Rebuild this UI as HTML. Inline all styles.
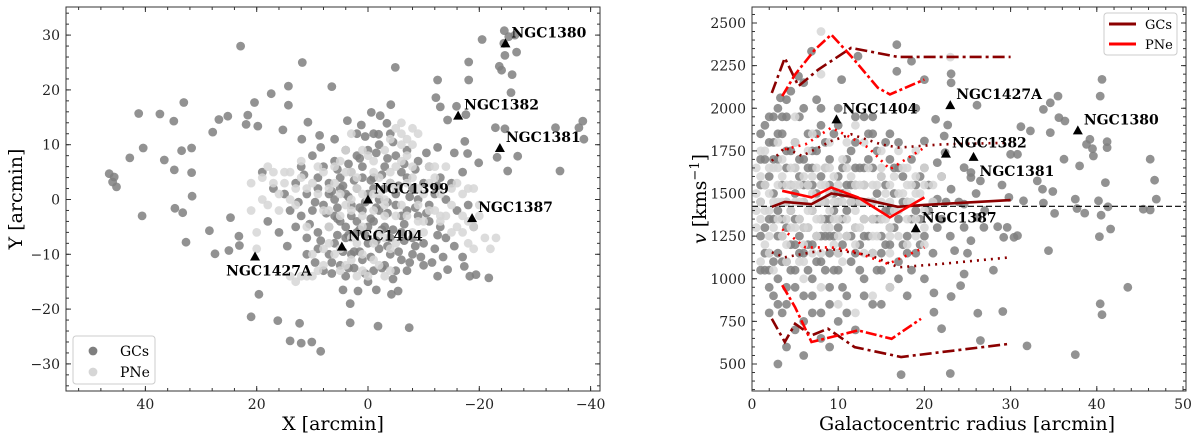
<!DOCTYPE html>
<html><head><meta charset="utf-8"><style>
html,body{margin:0;padding:0;background:#fff;}
svg{display:block;font-family:"DejaVu Serif","Liberation Serif",serif;}
.tick{font-size:14px;fill:#222;}
.lab{font-weight:bold;font-size:14px;fill:#000;}
</style></head><body>
<svg id="fig" width="1200" height="439" viewBox="0 0 1200 439" xmlns="http://www.w3.org/2000/svg">
<g id="left"></g>
<g id="right"></g>
</svg>
<script>
// ---- LEFT PANEL DATA ----
const leftXTicks=[40,20,0,-20,-40];
const leftYTicks=[30,20,10,0,-10,-20,-30];
const leftGCOuter=[[22.9,28],[11.8,25],[6.5,20.6],[17.4,19.3],[14.3,20.7],[20.4,17.7],[14.3,17.2],[41.2,15.7],[37.4,15.6],[34.9,14.3],[33.1,17.7],[26.8,14.6],[25.2,15.2],[21.6,15.4],[21.9,13.7],[19.8,13.4],[27.9,12.3],[40.4,9.4],[42.8,7.6],[36.6,7.2],[33.5,8.9],[31.7,9.4],[34.8,5.4],[31.7,4.9],[46.5,4.7],[45.6,4.1],[45.9,3.2],[45.2,2.3],[31.6,0.6],[34.7,-1.6],[33.3,-2.4],[40.6,-3],[32.7,-7.8],[28.5,-5.7],[27.5,-9.9],[25,-9.3],[24.7,-3.3],[23.2,-6.7],[23.1,-8.4],[21,-21.4],[19.6,-17.3],[16.2,-22.1],[12.3,-22.6],[14,-25.8],[12,-26.2],[10.1,-26],[8.5,-27.7],[3.2,-22.5],[-1.8,-23.1],[-7.4,-23.4],[3.2,-19],[1.8,-16.7],[-4.2,-17.3],[-5.4,-16.7],[-12.5,-14],[-14.3,-12.8],[-18.3,-14],[-19.4,-13.7],[-21.7,-14.3],[-17,-10.5],[-17.3,-12.2],[-20.5,29.2],[-24.5,30.8],[-26.4,30],[-25.3,29.7],[-24.4,28.5],[-26.7,26.9],[-24.6,26.3],[-23.6,24.3],[-24,23.6],[-25.9,22.8],[-18.1,25.1],[-18.1,21.8],[-12.5,21.8],[-12.2,18.6],[-13,16.9],[-15.9,17],[-17.6,15.5],[-14.3,14.5],[-25.7,19.5],[-22.9,13.1],[-24.6,12.9],[-17.4,10.6],[-17.9,8.4],[-23.2,7.7],[-26.9,7.9],[-33.7,13.1],[-37.9,13.1],[-38.6,14.3],[-38.8,11],[-34.5,5.2],[-25.1,5.2],[-19.9,6.7],[-4.9,24.1],[-4.1,17.3],[-0.6,15.9],[-2.2,15.3],[3.7,14.4],[1.2,13.6],[10.8,14.1],[15.3,12.7],[8.7,11.7],[11.9,11],[-1,12],[-1.9,11.9],[-3.4,13.9]];
const leftGCCore=[[-2,10],[0,9],[2,8],[4,9],[-5,8],[-7,9],[6,7],[8,6],[-9,7],[-11,6],[-13,4],[-10,3],[-6,5],[-3,6],[1,6],[3,5],[5,4],[7,3],[9,2],[11,1],[-1,4],[-4,3],[-8,2],[-12,1],[-14,0],[2,2],[4,1],[6,0],[8,-1],[10,-2],[12,-3],[0,1],[-2,0],[-5,-1],[-7,-2],[-9,-3],[-11,-4],[-13,-5],[1,-2],[3,-3],[5,-4],[7,-5],[9,-6],[-1,-4],[-3,-5],[-6,-6],[-8,-7],[-10,-8],[2,-6],[4,-7],[6,-8],[0,-8],[-2,-9],[-4,-10],[-6,-11],[-8,-10],[1,-11],[3,-10],[5,-12],[-1,-13],[-3,-12],[-5,-13],[7,-10],[9,-9],[11,-7],[13,-5],[14,-2],[15,1],[13,3],[12,6],[10,8],[-15,3],[-16,-2],[-12,-9],[-14,-7],[2,12],[-4,12],[4,-14],[-7,-13],[8,-13],[0,-15],[-10,-12],[16,-6],[18,-4],[17,2],[19,5],[-17,5],[-18,-1],[-19,-5],[6,11],[-1,2],[1,4],[3,-1],[-3,2],[-5,1],[5,2],[-7,4],[7,1],[-9,0],[9,4],[-11,-1],[11,-10],[-2,-2],[0,-5],[2,-4],[-4,-7],[4,-5],[-6,-3],[6,-3],
[-1.5,8.5],[1.5,7.5],[3.5,6.5],[-3.5,7.5],[-6.5,6.5],[5.5,5.5],[-8.5,5.5],[-0.5,3.5],[2.5,3.5],[-2.5,4.5],[4.5,2.5],[-5.5,2.5],[6.5,1.5],[-7.5,0.5],[0.5,-0.5],[-1.5,-1.5],[1.5,-1.5],[3.5,0.5],[-3.5,-0.5],[5.5,-1.5],[-6.5,-4.5],[7.5,-2.5],[-8.5,-1.5],[9.5,-0.5],[-10.5,-2.5],[0.5,-6.5],[-1.5,-7.5],[2.5,-9.5],[-3.5,-8.5],[4.5,-9.5],[-5.5,-9.5],[1.5,-9.5],[-0.5,-10.5],[3.5,-12.5],[-2.5,-12.5],[5.5,-6.5],[-4.5,-5.5],[6.5,-11.5],[-6.5,-7.5],[8.5,-7.5],[-8.5,-8.5],[10.5,-4.5],[-12.5,-6.5],[12.5,-0.5],[-12.5,2.5],[11.5,4.5],[-10.5,8.5],[8.5,9.5],[-4.5,10.5],[0.5,11.5],[-7.5,-11.5],[-9.5,-10.5],[-11.5,-11.5],[-13.5,-10.5],[-15.5,-8.5],[2.5,-12.5],[0.5,-13.5],[-4.5,-14.5],[6.5,-13.5],[9.5,-11.5],[14.5,-8.5],[-1.5,-16.5],[4.5,-16.5],[-12.5,9.5],[-15.5,8.5],[-3.5,-2.5],[-0.5,-3.5],[1.5,-5.5],[3.5,-6.5],[-2.5,-5.5],[5.5,-3.5]];
const leftPNe=[[0,0],[-2,1],[2,2],[-4,3],[4,-1],[-6,-1],[6,3],[-1,5],[1,-3],[-3,-3],[3,5],[-5,6],[5,7],[-8,4],[8,-2],[-7,8],[7,-5],[-10,1],[10,3],[-9,-4],[9,6],[0,8],[-2,-6],[2,-8],[-4,-9],[4,9],[-1,-11],[1,-13],[-3,-14],[2,-14],[-6,12],[-8,13],[-7,11],[-5,13],[-9,12],[-12,4],[-14,6],[-16,3],[-18,2],[-20,-1],[-17,-3],[-19,-5],[-21,-7],[-18,-8],[-16,-5],[-15,-1],[13,-1],[15,3],[17,5],[19,4],[16,1],[18,-1],[14,5],[12,7],[11,-14],[13,-15],[10,-14],[14,-14],[8,-9],[6,-10],[-12,-2],[-11,6],[-13,-3],[3,-11],[-10,-6],[11,-5],[5,-13],[-23,-7],[-22,-9],[20,-6],[20,-9],[-3,9],[3,12],
[-1,1],[1,1],[-3,0],[3,0],[-5,2],[5,1],[-7,3],[7,2],[-9,2],[9,1],[-11,3],[11,2],[-2,4],[2,4],[-4,5],[4,5],[-6,7],[6,6],[-8,6],[8,5],[-1,7],[1,9],[-3,-1],[3,-2],[-5,-3],[5,-3],[-7,-3],[7,-2],[-9,-1],[-1,-2],[1,-5],[-3,-7],[3,-7],[-5,-8],[5,-9],[-1,-8],[1,-10],[-2,-12],[0,-14],[-4,-13],[4,-12],[-13,1],[-15,2],[-17,1],[-19,2],[-14,-3],[-18,-4],[-20,-3],[-17,-6],[-19,-9],[-15,-6],[13,2],[15,5],[17,3],[18,6],[12,4],[16,-2],[14,0],[-6,10],[-4,11],[-8,10],[-6,14],[12,-14],[9,-13],[7,-8],[10,-10],[-11,-2],[-13,-4],[19,0],[21,-2],[21,3],[-8,-6],[-10,-4],[-12,6],[8,-12]];
const leftGalNames=["NGC1380","NGC1382","NGC1381","NGC1399","NGC1387","NGC1404","NGC1427A"];
const leftGalX=[-24.7,-16.2,-23.7,0,-18.7,4.7,20.3];
const leftGalY=[28.5,15.3,9.4,0,-3.4,-8.6,-10.4];

// ---- RIGHT PANEL DATA ----
const rightXTicks=[0,10,20,30,40,50];
const rightYTicks=[500,750,1000,1250,1500,1750,2000,2250,2500];
const systemicV=1425;
const rightGCOuter=[[40.6,2169],[40.4,2071],[35.5,2071],[34.6,2032],[33.8,1993],[35.6,1945],[36.3,1925],[34.6,1857],[32.3,1867],[31.2,1892],[38.8,1788],[39.2,1818],[41.2,1804],[41.2,1769],[39.5,1763],[39.6,1720],[36.2,1701],[38,1662],[46.2,1701],[46.7,1578],[41,1564],[33.1,1574],[33.7,1525],[34.9,1512],[33.8,1444],[31.5,1457],[37.5,1467],[37.7,1412],[38.6,1385],[40.2,1457],[41.3,1422],[40.5,1373],[41.6,1292],[40.3,1247],[45.4,1408],[46.2,1403],[46.9,1467],[35.1,1383],[34.4,1165],[43.6,950],[40.4,853],[40.6,789],[37.5,555],[31.9,606],[30.8,1253],[30.4,1243],[29.2,1243],[29.6,1301],[29.8,1477],[30,1730],[29.1,808],[26.5,638],[23,444],[17.3,438],[26.2,798],[23.1,896],[22,707],[21.1,804],[21.1,917],[24.2,960],[24.6,1028],[23.5,1165],[25.4,1223],[24.6,1301],[26.9,1301],[26.2,1360],[28.5,1305],[26.5,1574],[25.4,1594],[23.1,1525],[24.6,1438],[21.5,1467],[22.4,1740],[23.1,2149],[23.1,2202],[20,2168],[16.8,2217],[16.8,2373],[18.5,2276],[12.3,2305],[10.4,2168],[6.9,2334],[5.4,2188],[3.3,2061],[30.8,1730],[26.1,2018],[21.3,1935],[22.7,1902],[20,1808],[24.6,1652],[25.4,1623],[21.5,1681],[22.3,1837]];
const rightGCCore=[[1,1450],[1,1700],[1,1250],[1.5,1900],[1.5,1050],[2,1600],[2,1350],[2,1800],[2,1150],[2.5,1950],[2.5,1500],[2.5,900],[3,1700],[3,1250],[3,1400],[3,2000],[3,1000],[3.5,1550],[3.5,1850],[3.5,1100],[3.5,800],[4,1650],[4,1300],[4,1450],[4,1950],[4,950],[4.5,1750],[4.5,1200],[4.5,2100],[5,1500],[5,1350],[5,1800],[5,1050],[5,700],[5.5,1600],[5.5,1250],[5.5,1950],[6,1450],[6,1700],[6,1150],[6,900],[6,2150],[6.5,1550],[6.5,1300],[6.5,1850],[7,1400],[7,1650],[7,1000],[7,1200],[7,800],[7.5,1500],[7.5,1750],[7.5,2050],[8,1350],[8,1600],[8,1100],[8,1900],[8,650],[8.5,1450],[8.5,1250],[9,1550],[9,1700],[9,950],[9,1150],[9.5,1400],[9.5,1850],[10,1300],[10,1600],[10,1050],[10,2000],[10,750],[10.5,1500],[10.5,1200],[11,1700],[11,1400],[11,900],[11.5,1550],[11.5,1100],[12,1300],[12,1800],[12,1650],[12,700],[12.5,1450],[13,1250],[13,1550],[13,1000],[13,1950],[13.5,1700],[14,1350],[14,1150],[14,1850],[14,850],[14.5,1500],[15,1250],[15,1600],[15,1050],[15.5,1400],[16,1700],[16,1200],[16,950],[16.5,1500],[17,1350],[17,1800],[17,1100],[17.5,1600],[18,1250],[18,1450],[18,900],[18.5,1700],[19,1150],[19,1550],[19,2000],[19.5,1350],[20,1250],[20,1650],[20,1000],[21,1450],[21,1150],[22,1350],[22,1600],[23,1250],[24,1450],[25,1150],[26,1500],[27,1400],[28,1050],[29,1550],[4,600],[6,550],[3,500],[9,600],[12,1150],[2,800],[1,1550],[2,1050],[3,1850],[4,1100],[5,1650],[6,1300],[7,1550],[8,1250],[9,1350],[10,1450],[11,1250],[12,1450],[13,1350],[14,1650],[15,1350],[16,1400],[1.5,1300],[2.5,1700],
[1.5,1550],[1.5,1150],[1.5,1700],[2.5,1350],[2.5,1100],[2.5,1800],[3.5,1250],[3.5,1350],[3.5,1950],[4.5,1550],[4.5,1050],[4.5,1400],[5.5,1700],[5.5,1350],[5.5,1150],[6.5,1650],[6.5,1050],[6.5,1200],[7.5,1250],[7.5,1850],[7.5,1100],[8.5,1350],[8.5,1650],[8.5,1050],[8.5,1800],[9.5,1500],[9.5,1250],[9.5,1050],[10.5,1650],[10.5,1350],[10.5,950],[11.5,1450],[11.5,1250],[11.5,1750],[12.5,1650],[12.5,1050],[12.5,1200],[13.5,1450],[13.5,1250],[13.5,1850],[14.5,1350],[14.5,1750],[14.5,1050],[15.5,1550],[15.5,1200],[15.5,1800],[16.5,1300],[16.5,1650],[17.5,1450],[17.5,1200],[18.5,1350],[18.5,1050],[19.5,1600],[19.5,1200],[20.5,1400],[20.5,1550],[21.5,1300],[22.5,1450],[2,1950],[3,1150],[4,1750],[5,1200],[6,1550],[7,1750],[8,1450],[9,1250],[10,1150],[11,1550],[12,1550],[13,1650],[14,1450],[15,1150],[16,1300],[17,1650],[18,1150],[19,1400],[1,1850],[1,1050],[2,950],[3,850],[4,850],[5,950],[6,750],[7,900],[8,800],[9,850],[11,800],[13,900],[15,850],[17,1000],[4,2050],[6,2000],[8,2000],[10,1900],[12,1950],[14,1950],[16,1850]];
const rightPNe=[[0.5,1500],[0.5,1300],[1,1600],[1,1100],[1.5,1400],[1.5,1750],[2,1500],[2,1250],[2.5,1650],[2.5,1050],[3,1550],[3,1350],[3.5,1450],[3.5,1700],[4,1200],[4,1550],[4.5,1400],[4.5,1650],[5,1300],[5,1550],[5,1950],[5.5,1450],[5.5,1100],[6,1600],[6,1300],[6.5,1400],[6.5,1750],[7,1500],[7,1150],[7.5,1350],[7.5,1650],[8,1450],[8,2450],[8,2200],[8.5,1300],[8.5,1550],[9,1400],[9,1800],[9.5,1200],[9.5,1600],[10,1450],[10,1350],[10.5,1700],[10.5,1100],[11,1500],[11,1250],[11.5,1600],[12,1400],[12,1900],[12.5,1300],[12.5,1550],[13,1450],[13,1150],[13.5,1650],[14,1350],[14,1550],[14.5,1250],[15,1450],[15,1750],[15.5,1350],[16,1550],[16,1150],[16.5,1400],[17,1500],[17,1250],[17.5,1650],[18,1550],[18,1350],[18.5,1450],[19,1600],[19,1250],[19.5,1500],[20,1400],[20,1650],[21,1450],[21,1550],[22,1600],[23,2300],[12,800],[10,850],[14,900],[16,950],[6,1000],[8,950],
[0.5,1400],[0.5,1650],[1,1350],[1,1450],[1.5,1550],[1.5,1200],[2,1400],[2,1650],[2.5,1300],[2.5,1450],[3,1450],[3,1650],[3.5,1250],[3.5,1600],[4,1350],[4,1450],[4.5,1550],[4.5,1300],[5,1450],[5,1650],[5.5,1350],[5.5,1550],[6,1450],[6,1200],[6.5,1550],[6.5,1300],[7,1400],[7,1600],[7.5,1450],[7.5,1250],[8,1350],[8,1550],[8.5,1450],[8.5,1650],[9,1500],[9,1300],[9.5,1450],[9.5,1350],[10,1550],[10,1250],[10.5,1450],[11,1350],[11,1650],[11.5,1450],[12,1550],[12,1300],[12.5,1450],[13,1350],[13,1550],[13.5,1450],[14,1450],[14,1250],[14.5,1550],[15,1350],[15,1600],[15.5,1500],[16,1450],[16,1300],[16.5,1600],[17,1400],[17.5,1500],[18,1650],[18,1450],[18.5,1550],[19,1350],[19,1500],[20,1550],[20,1300],[1,1750],[3,1800],[5,1800],[7,1850],[9,1650],[11,1800],[13,1800],[15,1650],[17,1750],[19,1750],[2,1150],[4,1100],[6,1100],[8,1150],[10,1150],[12,1200],[14,1150],[16,1250],[18,1200],[20,1200]];
const rightGalNames=["NGC1404","NGC1427A","NGC1382","NGC1381","NGC1380","NGC1387"];
const rightGalR=[9.8,23,22.5,25.7,37.8,19];
const rightGalV=[1935,2018,1734,1715,1870,1296];

// profile curves
const gcMedR=[2.3,3.8,6.9,9.2,11.5,13.8,16.9,20,30];
const gcMedV=[1422,1451,1437,1500,1481,1457,1422,1433,1461];
const gcSigUpR=[2.3,3.8,5.8,9.2,11.5,15,17,22,30];
const gcSigUpV=[1691,1769,1720,1808,1847,1788,1769,1788,1798];
const gcSigLoR=[2.3,3.8,6.9,9.2,13.8,17,22,30];
const gcSigLoV=[1155,1126,1155,1174,1136,1067,1087,1126];
const gcOutUpR=[2.3,3.8,5.4,7.7,11.5,16.9,30];
const gcOutUpV=[2090,2295,2130,2227,2354,2301,2301];
const gcOutLoR=[2.3,3.8,5,6.9,8.8,11.9,17.3,30];
const gcOutLoV=[765,629,736,668,707,599,541,619];
const pnMedR=[3.5,6.9,9.2,12.3,16,20];
const pnMedV=[1516,1477,1535,1477,1360,1477];
const pnSigUpR=[3.8,6.2,9.2,11.5,13.5,16,20];
const pnSigUpV=[1760,1788,1886,1827,1769,1642,1769];
const pnSigLoR=[3.5,6.2,9.2,11.5,15.8,20];
const pnSigLoV=[1291,1184,1184,1165,1087,1184];
const pnOutUpR=[3.5,5,7.3,9.2,11.5,14.6,16,20];
const pnOutUpV=[2071,2198,2344,2432,2305,2120,2081,2168];
const pnOutLoR=[3.5,5,6.9,10,12.3,16.2,19.6];
const pnOutLoV=[962,833,629,668,697,648,765];

const NS="http://www.w3.org/2000/svg";
function mk(tag,attrs,parent){const e=document.createElementNS(NS,tag);for(const k in attrs)e.setAttribute(k,attrs[k]);parent.appendChild(e);return e;}

const L={x0:66,x1:600,y0:7,y1:391};
const lx=v=>368-v*5.565; const ly=v=>199.5-v*5.48;
const R={x0:752,x1:1186,y0:7,y1:391};
const rx=v=>752+v*8.62; const ry=v=>23+(2500-v)*0.1705;

function clip(id,B){const d=document.querySelector('#fig defs')||mk('defs',{},document.getElementById('fig'));const c=mk('clipPath',{id:id},d);mk('rect',{x:B.x0,y:B.y0,width:B.x1-B.x0,height:B.y1-B.y0},c);}
clip('cl',L);clip('cr',R);

function scatter(g,pts,fx,fy,col,name){
  const gg=mk('g',{'clip-path':g.id==='left'?'url(#cl)':'url(#cr)'},g);
  
  
  pts.forEach(p=>{const c=mk('circle',{cx:fx(p[0]).toFixed(1),cy:fy(p[1]).toFixed(1),r:4.4,fill:col,'fill-opacity':0.85},gg);
    
    });
}
function frame(g,B,xt,yt,fx,fy,name){
  const r=mk('rect',{x:B.x0,y:B.y0,width:B.x1-B.x0,height:B.y1-B.y0,fill:'none',stroke:'#333','stroke-width':1},g);
  
  
  xt.forEach(v=>{const x=fx(v);
    mk('line',{x1:x,x2:x,y1:B.y1,y2:B.y1-5,stroke:'#333'},g);
    mk('line',{x1:x,x2:x,y1:B.y0,y2:B.y0+5,stroke:'#333'},g);
    const t=mk('text',{x:x,y:B.y1+18,'text-anchor':'middle',class:'tick'},g);t.textContent=String(v).replace('-','\u2212');
    
    });
  yt.forEach(v=>{const y=fy(v);
    mk('line',{x1:B.x0,x2:B.x0+5,y1:y,y2:y,stroke:'#333'},g);
    mk('line',{x1:B.x1,x2:B.x1-5,y1:y,y2:y,stroke:'#333'},g);
    const t=mk('text',{x:B.x0-6,y:y+5,'text-anchor':'end',class:'tick'},g);t.textContent=String(v).replace('-','\u2212');
    
    });
}
function minor(g,B,fx,fy,xs,ys){
  xs.forEach(v=>{const x=fx(v);if(x>B.x0&&x<B.x1){mk('line',{x1:x,x2:x,y1:B.y1,y2:B.y1-3,stroke:'#333'},g);mk('line',{x1:x,x2:x,y1:B.y0,y2:B.y0+3,stroke:'#333'},g);}});
  ys.forEach(v=>{const y=fy(v);if(y>B.y0&&y<B.y1){mk('line',{x1:B.x0,x2:B.x0+3,y1:y,y2:y,stroke:'#333'},g);mk('line',{x1:B.x1,x2:B.x1-3,y1:y,y2:y,stroke:'#333'},g);}});
}
function tri(g,x,y){return mk('path',{d:`M${x-5},${y+4} L${x+5},${y+4} L${x},${y-5} Z`,fill:'#000'},g);}

// LEFT
const gl=document.getElementById('left');
scatter(gl,leftGCOuter.concat(leftGCCore),lx,ly,'#7f7f7f','gc-scatter-xy');
scatter(gl,leftPNe,lx,ly,'#d6d6d6','pne-scatter-xy');
const lmx=[],lmy=[];for(let v=-40;v<=55;v+=4){lmx.push(v);}for(let v=-34;v<=34;v+=2)lmy.push(v);
minor(gl,L,lx,ly,lmx,lmy);
frame(gl,L,leftXTicks,leftYTicks,lx,ly,'left');
leftGalNames.forEach((n,i)=>{const x=lx(leftGalX[i]),y=ly(leftGalY[i]);
  const t1=tri(gl,x,y);
  const below=n==='NGC1427A';
  const t=mk('text',{x:below?x+14:x+6,y:below?y+19:y-6,'text-anchor':below?'middle':'start',class:'lab'},gl);t.textContent=n;
  
  });
const lg=mk('g',{},gl);
mk('rect',{x:73,y:336,width:82,height:48,rx:3,fill:'#fff','fill-opacity':0.8,stroke:'#ccc'},lg);
mk('circle',{cx:93,cy:351,r:4.4,fill:'#7f7f7f'},lg);mk('circle',{cx:93,cy:372,r:4.4,fill:'#d6d6d6'},lg);
let t=mk('text',{x:120,y:356,style:'font-size:14px'},lg);t.textContent='GCs';
t=mk('text',{x:120,y:377,style:'font-size:14px'},lg);t.textContent='PNe';
t=mk('text',{x:333,y:430,'text-anchor':'middle',style:'font-size:19px'},gl);t.textContent='X [arcmin]';
t=mk('text',{x:0,y:0,'text-anchor':'middle',transform:'translate(22,199) rotate(-90)',style:'font-size:19px'},gl);t.textContent='Y [arcmin]';

// RIGHT
const gr=document.getElementById('right');
scatter(gr,rightGCOuter.concat(rightGCCore),rx,ry,'#7f7f7f','gc-scatter-rv');
scatter(gr,rightPNe,rx,ry,'#d6d6d6','pne-scatter-rv');
const hl=mk('line',{x1:R.x0,x2:R.x1,y1:ry(systemicV),y2:ry(systemicV),stroke:'#000','stroke-dasharray':'6,3','stroke-width':1.2},gr);

function curve(rs,vs,col,dash,name){const d=rs.map((r,i)=>(i?'L':'M')+rx(r).toFixed(1)+','+ry(vs[i]).toFixed(1)).join(' ');
  const p=mk('path',{d:d,fill:'none',stroke:col,'stroke-width':2.6,'stroke-dasharray':dash},gr);
  
  }
const DR='#8b0000',RD='#ff0000';
curve(gcMedR,gcMedV,DR,'none','gc-median-line');
curve(gcSigUpR,gcSigUpV,DR,'2,5','gc-sigma-upper');
curve(gcSigLoR,gcSigLoV,DR,'2,5','gc-sigma-lower');
curve(gcOutUpR,gcOutUpV,DR,'12,4,3,4','gc-outer-upper');
curve(gcOutLoR,gcOutLoV,DR,'12,4,3,4','gc-outer-lower');
curve(pnMedR,pnMedV,RD,'none','pne-median-line');
curve(pnSigUpR,pnSigUpV,RD,'2,5','pne-sigma-upper');
curve(pnSigLoR,pnSigLoV,RD,'2,5','pne-sigma-lower');
curve(pnOutUpR,pnOutUpV,RD,'11,3,3,3','pne-outer-upper');
curve(pnOutLoR,pnOutLoV,RD,'11,3,3,3','pne-outer-lower');
const rmx=[],rmy=[];for(let v=2;v<=50;v+=2)rmx.push(v);for(let v=300;v<=2550;v+=50)rmy.push(v);
minor(gr,R,rx,ry,rmx,rmy);
frame(gr,R,rightXTicks,rightYTicks,rx,ry,'right');
rightGalNames.forEach((n,i)=>{const x=rx(rightGalR[i]),y=ry(rightGalV[i]);
  const t1=tri(gr,x,y);
  const below=n==='NGC1381';
  const t=mk('text',{x:x+6,y:below?y+19:y-6,class:'lab'},gr);t.textContent=n;
  
  });
const rg=mk('g',{},gr);
mk('rect',{x:1104,y:13,width:73,height:42,rx:3,fill:'#fff','fill-opacity':0.85,stroke:'#ccc'},rg);
mk('line',{x1:1109,x2:1136,y1:24,y2:24,stroke:DR,'stroke-width':3},rg);
mk('line',{x1:1109,x2:1136,y1:44,y2:44,stroke:RD,'stroke-width':3},rg);
t=mk('text',{x:1145,y:29,style:'font-size:13px'},rg);t.textContent='GCs';
t=mk('text',{x:1145,y:49,style:'font-size:13px'},rg);t.textContent='PNe';
t=mk('text',{x:967,y:430,'text-anchor':'middle',style:'font-size:19px'},gr);t.textContent='Galactocentric radius [arcmin]';
t=mk('text',{x:0,y:0,'text-anchor':'middle',transform:'translate(706,199) rotate(-90)',style:'font-size:19px'},gr);

t.innerHTML='<tspan font-style="italic">v</tspan> [kms<tspan dy="-7" font-size="13">\u22121</tspan><tspan dy="7">]</tspan>';
</script>
</body></html>
